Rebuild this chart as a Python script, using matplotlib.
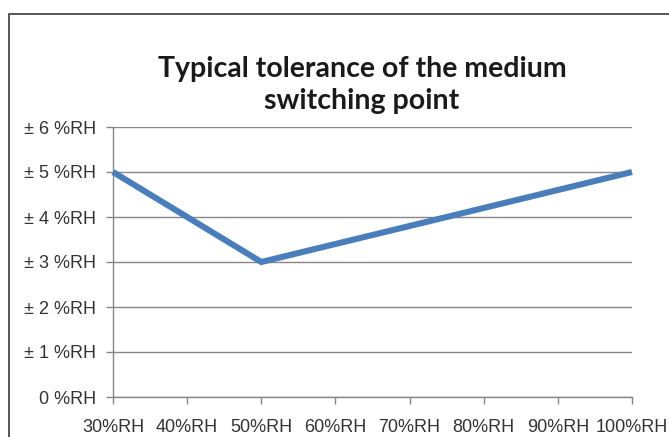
import matplotlib.pyplot as plt
from matplotlib.patches import Rectangle

# humidity set points and typical tolerance (± %RH)
categories = ['30%RH', '40%RH', '50%RH', '60%RH', '70%RH', '80%RH', '90%RH', '100%RH']
tolerance = [5, 4, 3, 3.4, 3.8, 4.2, 4.6, 5]
y_ticks = [0, 1, 2, 3, 4, 5, 6]
y_labels = ['0 %RH', '± 1 %RH', '± 2 %RH', '± 3 %RH', '± 4 %RH', '± 5 %RH', '± 6 %RH']
title_lines = ['Typical tolerance of the medium', 'switching point']

W, H = 669, 437
fig = plt.figure(figsize=(W / 100, H / 100), dpi=100)
ax = fig.add_axes([113 / W, 1 - 397 / H, (632 - 113) / W, (397 - 127) / H])

grey = '#868686'
tick_font = {'family': 'Liberation Sans', 'size': 13}

x = list(range(len(categories)))
ax.plot(x, tolerance, color='#4a7ebb', lw=4.4, solid_joinstyle='miter',
        solid_capstyle='butt', zorder=3, clip_on=False)

ax.set_xlim(0, len(categories) - 1)
ax.set_ylim(0, 6)
ax.set_xticks(x)
ax.set_xticklabels(categories, fontdict=tick_font, color='#333333')
ax.set_yticks(y_ticks)
ax.set_yticklabels(y_labels, fontdict=tick_font, color='#333333')

ax.grid(axis='y', color=grey, lw=1)
ax.set_axisbelow(True)
for s in ['top', 'right']:
    ax.spines[s].set_visible(False)
for s in ['left', 'bottom']:
    ax.spines[s].set_color(grey)
    ax.spines[s].set_linewidth(1)
ax.tick_params(axis='both', direction='out', length=5, width=1, color=grey)
ax.tick_params(axis='y', pad=7)
ax.tick_params(axis='x', pad=11)

# title, two lines as in the original
for line, base in zip(title_lines, [77, 109]):
    fig.text(362 / W, 1 - base / H, line, ha='center', va='baseline',
             fontsize=20.5, fontweight='bold', family='Lato', color='#1a1a1a')

# chart border
fig.patches.append(Rectangle((8.5 / W, -0.1), 1.1, 1.1 - 13.5 / H, transform=fig.transFigure,
                             fill=False, edgecolor='#3a3a3a', lw=1.2))

fig.savefig('out.png', dpi=100)
